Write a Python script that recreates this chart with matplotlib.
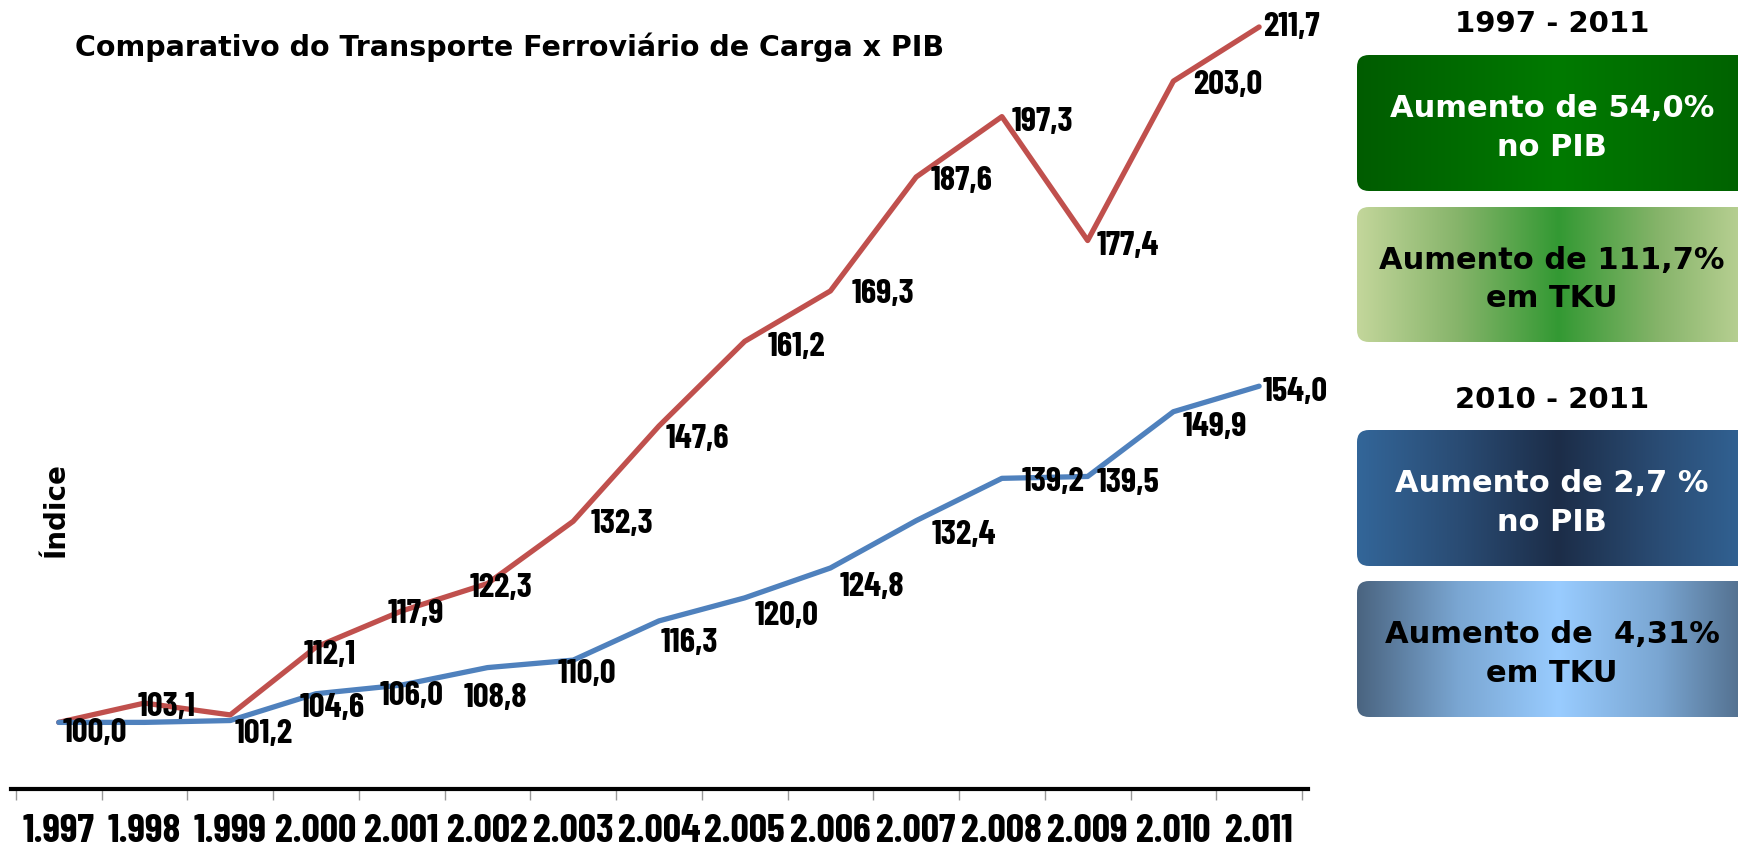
import matplotlib
matplotlib.use("Agg")
import matplotlib.pyplot as plt
import numpy as np
from matplotlib.patches import FancyBboxPatch
from matplotlib.colors import LinearSegmentedColormap

# dados
anos = ["1.997", "1.998", "1.999", "2.000", "2.001", "2.002", "2.003", "2.004",
        "2.005", "2.006", "2.007", "2.008", "2.009", "2.010", "2.011"]
pib = [100.0, 100.0, 100.3, 104.6, 106.0, 108.8, 110.0, 116.3,
       120.0, 124.8, 132.4, 139.2, 139.5, 149.9, 154.0]
tku = [100.0, 103.1, 101.2, 112.1, 117.9, 122.3, 132.3, 147.6,
       161.2, 169.3, 187.6, 197.3, 177.4, 203.0, 211.7]

# posicao dos rotulos (pontos), None = escondido
off_pib = [(26, -8), None, None, (12, -10), (7, -8), (6, -22), (10, -10), (22, -16),
           (30, -13), (30, -14), (34, -10), (37, -3), (29, -5), (30, -11), (26, -4)]
off_tku = [None, (16, -3), (24, -14), (10, -6), (10, -2), (10, -3), (35, -2), (28, -9),
           (37, -4), (38, -2), (33, -3), (29, -4), (29, -4), (39, -3), (23, 0)]

narrow = ["Barlow Condensed", "DejaVu Sans"]

fig = plt.figure(figsize=(17.38, 8.46), dpi=100)
W, H = 1738, 846
ax = fig.add_axes([11 / W, 57 / H, (1308 - 11) / W, (789 - 17) / H])

x = np.arange(len(anos))
ax.plot(x, tku, color="#C0504D", lw=3.8, solid_capstyle="round", zorder=3)
ax.plot(x, pib, color="#4F81BD", lw=3.8, solid_capstyle="round", zorder=3)

for i in range(len(anos)):
    if off_pib[i] is not None:
        ax.annotate(f"{pib[i]:.1f}".replace(".", ","), (x[i], pib[i]), xytext=off_pib[i],
                    textcoords="offset points", ha="center", va="center",
                    fontsize=25, fontweight="bold", family=narrow, zorder=4)
    if off_tku[i] is not None:
        ax.annotate(f"{tku[i]:.1f}".replace(".", ","), (x[i], tku[i]), xytext=off_tku[i],
                    textcoords="offset points", ha="center", va="center",
                    fontsize=25, fontweight="bold", family=narrow, zorder=4)

ax.set_xlim(-0.557, 14.57)
ax.set_ylim(89.3, 213.3)
ax.set_xticks(x)
ax.set_xticklabels(anos, fontsize=29, fontweight="bold", family=narrow)
ax.set_xticks(np.arange(-0.5, 15, 1), minor=True)
ax.tick_params(axis="x", which="major", length=0, pad=18)
ax.tick_params(axis="x", which="minor", length=8, width=1, color="#999999")
ax.set_yticks([])
for s in ["top", "right", "left"]:
    ax.spines[s].set_visible(False)
ax.spines["bottom"].set_linewidth(3)
ax.patch.set_alpha(0)

fig.text(75 / W, 1 - 47 / H, "Comparativo do Transporte Ferroviário de Carga x PIB",
         fontsize=20.5, fontweight="bold", ha="left", va="center")
fig.text(55 / W, 1 - 510 / H, "Índice", fontsize=20, fontweight="bold",
         rotation=90, ha="center", va="center")

# painel da direita
pan = fig.add_axes([0, 0, 1, 1], zorder=-1)
pan.set_xlim(0, W)
pan.set_ylim(H, 0)
pan.axis("off")

caixas = [
    (55, 191, ["#005C00", "#007A00", "#006000"], "Aumento de 54,0%\nno PIB", "white"),
    (207, 342, ["#C3D69B", "#86B46A", "#339933", "#86B46A", "#C3D69B"], "Aumento de 111,7%\nem TKU", "black"),
    (430, 566, ["#336699", "#2A4C74", "#1C2D48", "#2A4C74", "#336699"], "Aumento de 2,7 %\nno PIB", "white"),
    (581, 717, ["#4A6480", "#7AA6D2", "#99CCFF", "#7AA6D2", "#4A6480"], "Aumento de  4,31%\nem TKU", "black"),
]
x0, x1 = 1357, 1760
for y0, y1, cores, txt, tc in caixas:
    cmap = LinearSegmentedColormap.from_list("g", cores)
    box = FancyBboxPatch((x0, y0), x1 - x0, y1 - y0,
                         boxstyle="round,pad=0,rounding_size=12",
                         facecolor="none", edgecolor="none")
    pan.add_patch(box)
    im = pan.imshow(np.linspace(0, 1, 256)[None, :], cmap=cmap, aspect="auto",
                    extent=[x0, x1, y1, y0], interpolation="bilinear")
    im.set_clip_path(box)
    pan.text(1552, (y0 + y1) / 2 + 5, txt, color=tc, fontsize=22, fontweight="bold",
             ha="center", va="center", linespacing=1.4)

pan.text(1552, 24, "1997 - 2011", fontsize=21, fontweight="bold", ha="center", va="center")
pan.text(1552, 400, "2010 - 2011", fontsize=21, fontweight="bold", ha="center", va="center")
pan.set_xlim(0, W)
pan.set_ylim(H, 0)

fig.savefig("out.png", dpi=100)
